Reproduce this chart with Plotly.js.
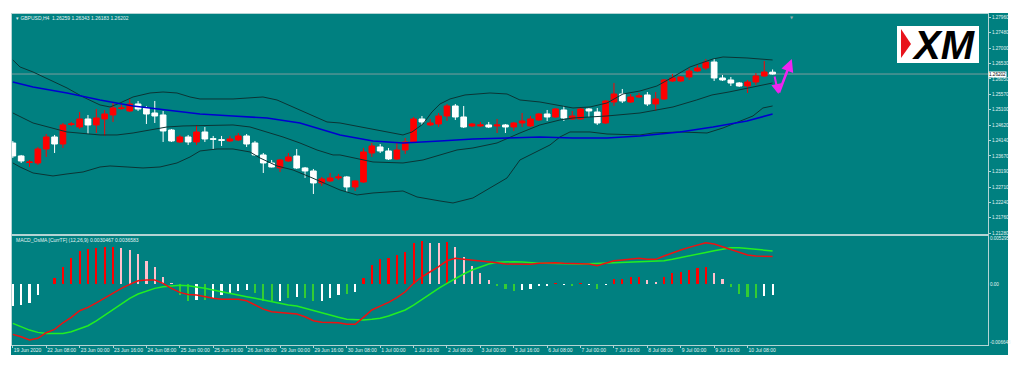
<!DOCTYPE html>
<html>
<head>
<meta charset="utf-8">
<script src="https://cdn.plot.ly/plotly-3.0.1.min.js"></script>
<style>html,body{margin:0;padding:0;background:#fff;}#chart{width:1019px;height:370px;}</style>
</head>
<body>
<div id="chart"></div>
<script>
// ---------- DATA ----------
const symbol = 'GBPUSD,H4';
const timeLabels = ['19 Jun 2020','22 Jun 08:00','23 Jun 00:00','23 Jun 16:00','24 Jun 08:00','25 Jun 00:00','25 Jun 16:00','26 Jun 08:00','29 Jun 00:00','29 Jun 16:00','30 Jun 08:00','1 Jul 00:00','1 Jul 16:00','2 Jul 08:00','3 Jul 00:00','3 Jul 16:00','6 Jul 08:00','7 Jul 00:00','7 Jul 16:00','8 Jul 08:00','9 Jul 00:00','9 Jul 16:00','10 Jul 08:00'];
const labelEvery = 4; // one time label every 4 H4 bars

const open = [1.24071,1.23670,1.23469,1.23453,1.23886,1.24257,1.24040,1.24643,1.24566,1.24813,
1.24628,1.24813,1.24937,1.25138,1.25060,1.25276,1.25153,1.24998,1.24937,1.24473,
1.24102,1.24257,1.24102,1.24411,1.24204,1.24173,1.24133,1.24164,1.24288,1.24071,
1.23701,1.23453,1.23299,1.23515,1.23670,1.23299,1.23206,1.22835,1.22897,1.22990,
1.23021,1.22712,1.22866,1.23762,1.23948,1.23824,1.23577,1.23855,1.24102,1.24813,
1.24628,1.24658,1.24906,1.25215,1.24875,1.24597,1.24597,1.24628,1.24597,1.24628,
1.24566,1.24689,1.24597,1.24782,1.24967,1.24875,1.25091,1.24813,1.24813,1.25122,
1.25029,1.24689,1.25338,1.25585,1.25338,1.25493,1.25555,1.25276,1.25431,1.25987,
1.25987,1.26111,1.26296,1.26389,1.26574,1.26080,1.26018,1.25925,1.25833,1.25956,
1.26142,1.26259];
const high = [1.24133,1.23701,1.23546,1.23948,1.24349,1.24319,1.24689,1.24720,1.25029,1.24937,
1.25122,1.25091,1.25307,1.25307,1.25431,1.25369,1.25215,1.25369,1.25060,1.24504,
1.24319,1.24319,1.24628,1.24566,1.24288,1.24288,1.24288,1.24380,1.24349,1.24133,
1.23762,1.23546,1.23577,1.23762,1.23886,1.23330,1.23268,1.23021,1.23144,1.23114,
1.23052,1.22928,1.23917,1.24071,1.24040,1.23917,1.24102,1.24226,1.24875,1.24906,
1.24813,1.24998,1.25276,1.25276,1.25215,1.24689,1.24720,1.24720,1.24813,1.24658,
1.24720,1.24998,1.24906,1.24998,1.25091,1.25153,1.25215,1.25060,1.25153,1.25153,
1.25153,1.25400,1.25925,1.25740,1.25585,1.25616,1.25647,1.25647,1.26049,1.26203,
1.26142,1.26389,1.26482,1.26667,1.26667,1.26173,1.26111,1.25956,1.26018,1.26234,
1.26605,1.26343];
const low = [1.23608,1.23453,1.23330,1.23392,1.23639,1.23762,1.23917,1.24597,1.24504,1.24349,
1.24380,1.24288,1.24720,1.25091,1.25029,1.25060,1.24658,1.24689,1.24102,1.24102,
1.24071,1.24010,1.24010,1.24102,1.23886,1.23979,1.24102,1.24133,1.23948,1.23670,
1.23144,1.23315,1.23175,1.23484,1.23268,1.22990,1.22495,1.22743,1.22866,1.22928,
1.22557,1.22588,1.22835,1.23639,1.23762,1.23546,1.23546,1.23731,1.24071,1.24628,
1.24597,1.24566,1.24751,1.24782,1.24535,1.24566,1.24566,1.24535,1.24380,1.24380,
1.24442,1.24566,1.24566,1.24751,1.24751,1.24844,1.24751,1.24782,1.24782,1.24875,
1.24628,1.24658,1.25215,1.25307,1.25307,1.25462,1.25215,1.25060,1.25400,1.25956,
1.25956,1.26018,1.26265,1.26327,1.25987,1.25987,1.25833,1.25802,1.25616,1.25864,
1.26111,1.26183];
const close = [1.23670,1.23515,1.23484,1.23886,1.24257,1.24040,1.24628,1.24658,1.24813,1.24628,
1.24844,1.24967,1.25153,1.25153,1.25276,1.25122,1.24967,1.24906,1.24442,1.24133,
1.24257,1.24102,1.24411,1.24195,1.24186,1.24155,1.24195,1.24288,1.24040,1.23701,
1.23453,1.23330,1.23546,1.23639,1.23299,1.23206,1.22835,1.22959,1.22990,1.23021,
1.22712,1.22897,1.23793,1.23979,1.23824,1.23577,1.23855,1.24102,1.24813,1.24720,
1.24689,1.24906,1.25215,1.24875,1.24566,1.24658,1.24628,1.24566,1.24628,1.24566,
1.24689,1.24751,1.24813,1.24967,1.24875,1.25122,1.24844,1.24906,1.25122,1.25060,
1.24689,1.25369,1.25585,1.25369,1.25493,1.25524,1.25276,1.25431,1.26018,1.26080,
1.26111,1.26296,1.26389,1.26574,1.26080,1.26018,1.25925,1.25833,1.25956,1.26142,
1.26265,1.26202];

// Bollinger bands (bar position, price)
const bbUpperX = [0,0.86,2.42,4.46,6.49,8.41,10.44,11.64,12.84,14.4,16.43,17.99,19.66,21.22,22.42,26.37,29.96,31.64,33.56,35.59,37.63,39.19,43.14,46.73,47.81,49.13,50.2,51.16,52.36,54.16,57.15,59.19,60.74,63.13,67.09,69.13,71.16,73.08,75.12,77.15,79.07,81.1,83.86,85.06,87.93,91];
const bbUpperY = [1.26636,1.26420,1.26265,1.26018,1.25771,1.25493,1.25246,1.25184,1.25307,1.25493,1.25616,1.25647,1.25616,1.25493,1.25431,1.25431,1.25493,1.25400,1.25184,1.24937,1.24720,1.24689,1.24504,1.24319,1.24411,1.24658,1.25029,1.25276,1.25431,1.25555,1.25616,1.25585,1.25400,1.25338,1.25153,1.25184,1.25307,1.25585,1.25678,1.25833,1.26111,1.26420,1.26667,1.26729,1.26698,1.26636];
const bbMidX = [0,2.42,6.49,10.44,12.48,14.4,16.43,18.47,20.38,24.46,26.37,28.41,30.44,32.36,34.39,36.43,38.35,39.19,43.14,46.73,49.13,51.16,53.2,55.11,57.99,60.74,63.13,65.53,67.09,69.13,71.16,75.12,79.07,81.9,83.74,85.77,87.93,89.78,91];
const bbMidY = [1.24998,1.24689,1.24411,1.24319,1.24319,1.24380,1.24473,1.24566,1.24597,1.24628,1.24628,1.24566,1.24411,1.24257,1.24071,1.23855,1.23701,1.23701,1.23484,1.23453,1.23546,1.23701,1.23855,1.23917,1.24071,1.24380,1.24628,1.24782,1.24844,1.24875,1.24906,1.24998,1.25184,1.25400,1.25555,1.25647,1.25771,1.25864,1.25925];
const bbLowerX = [0,0.86,2.42,4.81,6.49,8.41,10.44,11.64,13.68,15.59,17.63,19.66,21.22,22.42,24.46,26.37,28.41,29.6,31.64,33.56,35.59,37.63,39.19,41.22,43.14,46.73,48.41,51.16,52.72,55.11,57.15,59.19,60.74,63.13,64.34,65.53,66.73,69.13,71.16,75.12,76.68,79.9,83.14,85.06,86.25,88.65,89.84,91];
const bbLowerY = [1.23453,1.23330,1.23144,1.23052,1.23114,1.23175,1.23330,1.23361,1.23330,1.23299,1.23330,1.23453,1.23639,1.23824,1.23886,1.23886,1.23793,1.23608,1.23361,1.23237,1.23021,1.22804,1.22619,1.22465,1.22526,1.22588,1.22403,1.22279,1.22217,1.22372,1.22681,1.22990,1.23546,1.23855,1.24010,1.24257,1.24411,1.24411,1.24349,1.24319,1.24380,1.24411,1.24380,1.24535,1.24658,1.24906,1.25153,1.25215];
// Moving average (blue)
const maX = [0,2.42,6.49,10.44,14.4,18.47,22.42,26.37,30.44,34.39,36.79,39.19,43.14,46.73,51.16,55.11,59.19,63.13,67.09,71.16,75.12,79.9,83.86,87.93,91];
const maY = [1.25956,1.25802,1.25616,1.25400,1.25215,1.25091,1.24967,1.24906,1.24844,1.24689,1.24504,1.24319,1.24133,1.24071,1.24133,1.24195,1.24226,1.24257,1.24226,1.24226,1.24288,1.24411,1.24566,1.24751,1.24967];

// MACD_OsMA (12,26,9)
const macd = [-0.00548,-0.00574,-0.00610,-0.00591,-0.00530,-0.00493,-0.00421,-0.00361,-0.00289,-0.00252,
-0.00202,-0.00147,-0.00092,-0.00044,0.00000,0.00039,0.00047,0.00047,0.00011,-0.00044,
-0.00088,-0.00110,-0.00117,-0.00136,-0.00153,-0.00164,-0.00164,-0.00164,-0.00180,-0.00227,
-0.00271,-0.00300,-0.00307,-0.00311,-0.00325,-0.00355,-0.00399,-0.00416,-0.00416,-0.00421,
-0.00438,-0.00438,-0.00361,-0.00281,-0.00238,-0.00197,-0.00145,-0.00081,0.00011,0.00083,
0.00138,0.00193,0.00258,0.00285,0.00274,0.00266,0.00258,0.00248,0.00237,0.00222,
0.00222,0.00222,0.00219,0.00230,0.00237,0.00237,0.00230,0.00230,0.00230,0.00222,
0.00204,0.00230,0.00258,0.00266,0.00274,0.00285,0.00274,0.00274,0.00310,0.00346,
0.00376,0.00405,0.00430,0.00456,0.00441,0.00412,0.00383,0.00346,0.00321,0.00310,
0.00310,0.0030467];
const signal = [-0.00427,-0.00464,-0.00501,-0.00526,-0.00537,-0.00537,-0.00537,-0.00519,-0.00490,-0.00453,
-0.00399,-0.00336,-0.00274,-0.00216,-0.00153,-0.00106,-0.00073,-0.00044,-0.00026,-0.00015,
-0.00011,-0.00015,-0.00026,-0.00044,-0.00062,-0.00081,-0.00099,-0.00125,-0.00136,-0.00153,
-0.00172,-0.00191,-0.00208,-0.00227,-0.00238,-0.00263,-0.00292,-0.00318,-0.00344,-0.00361,
-0.00383,-0.00391,-0.00391,-0.00383,-0.00372,-0.00347,-0.00318,-0.00281,-0.00227,-0.00164,
-0.00106,-0.00044,0.00011,0.00066,0.00113,0.00157,0.00193,0.00222,0.00241,0.00248,
0.00248,0.00244,0.00233,0.00230,0.00230,0.00226,0.00222,0.00222,0.00222,0.00226,
0.00230,0.00230,0.00237,0.00241,0.00244,0.00248,0.00248,0.00255,0.00258,0.00274,
0.00291,0.00310,0.00329,0.00350,0.00368,0.00387,0.00401,0.00401,0.00394,0.00387,
0.00376,0.0036583];
const osma = [-0.00238,-0.00227,-0.00205,-0.00117,0.00009,0.00069,0.00189,0.00288,0.00365,0.00386,
0.00398,0.00409,0.00412,0.00398,0.00376,0.00332,0.00255,0.00189,0.00080,0.00014,
-0.00117,-0.00183,-0.00170,-0.00175,-0.00150,-0.00117,-0.00095,-0.00073,-0.00063,-0.00095,
-0.00183,-0.00194,-0.00183,-0.00150,-0.00139,-0.00150,-0.00183,-0.00183,-0.00150,-0.00117,
-0.00106,-0.00084,0.00069,0.00211,0.00277,0.00288,0.00321,0.00354,0.00452,0.00474,
0.00452,0.00450,0.00463,0.00409,0.00299,0.00200,0.00124,0.00047,-0.00013,-0.00051,
-0.00073,-0.00062,-0.00051,-0.00019,-0.00013,0.00020,-0.00008,-0.00013,0.00014,-0.00008,
-0.00051,-0.00005,0.00058,0.00060,0.00080,0.00082,0.00047,0.00025,0.00080,0.00124,
0.00135,0.00157,0.00179,0.00189,0.00124,0.00058,-0.00030,-0.00106,-0.00139,-0.00145,
-0.00128,-0.00117];
// histogram state per bar: r = up above 0, p = down above 0, g = down below 0, w = up below 0
const osmaState = 'wwww' + 'rrrrrrrrr' + 'ppppppp' + 'ggwgwwwwwgggwgwggwwwgw' + 'rrrrrrrr' + 'pprppppp' + 'gggwwwwrwgrwgw' + 'rrrrpprrrrrrppggggww';

const priceTicks = ['1.27960','1.27480','1.27000','1.26530','1.26050','1.25570','1.25100','1.24620','1.24140','1.23670','1.23190','1.22710','1.22240','1.21760','1.21280'];
const priceRange = [1.21259, 1.28057];
const macdMax = 0.005295, macdMin = -0.006643;
const macdTickText = ['0.005295','0.00','-0.006643'];

// ---------- BUILD ----------
const n = close.length;
const idx = Array.from({length:n}, (_, i) => i);
const tickPos = timeLabels.map((_, k) => k * labelEvery);
const stateColor = {r:'#ff0000', p:'#ffc0cc', g:'#33cc33', w:'#ffffff'};
const histColors = osmaState.split('').map(s => stateColor[s]);
const last = n - 1;
const fmt5 = v => v.toFixed(5);

const FONT = 'Liberation Sans, Arial, sans-serif';
const TXT = '#e4f2f2';
const LINE = '#b4d4d4';
const TEAL = '#008080';
const BAND = '#0b3434';

const traces = [
  {type:'scatter', mode:'lines', x:bbUpperX, y:bbUpperY, line:{color:BAND, width:1}, xaxis:'x', yaxis:'y', hoverinfo:'skip'},
  {type:'scatter', mode:'lines', x:bbMidX, y:bbMidY, line:{color:BAND, width:1}, xaxis:'x', yaxis:'y', hoverinfo:'skip'},
  {type:'scatter', mode:'lines', x:bbLowerX, y:bbLowerY, line:{color:BAND, width:1}, xaxis:'x', yaxis:'y', hoverinfo:'skip'},
  {type:'scatter', mode:'lines', x:maX, y:maY, line:{color:'#0000d0', width:1.6}, xaxis:'x', yaxis:'y', hoverinfo:'skip'},
  {type:'candlestick', x:idx, open:open, high:high, low:low, close:close, xaxis:'x', yaxis:'y',
   increasing:{line:{color:'#ff0000', width:1}, fillcolor:'#ff0000'},
   decreasing:{line:{color:'#ffffff', width:1}, fillcolor:'#ffffff'},
   whiskerwidth:0, hoverinfo:'skip'},
  {type:'bar', x:idx, y:osma, width:0.26, marker:{color:histColors, line:{width:0}}, xaxis:'x2', yaxis:'y2', hoverinfo:'skip'},
  {type:'scatter', mode:'lines', x:idx, y:signal, line:{color:'#22ee22', width:1.5}, xaxis:'x2', yaxis:'y2', hoverinfo:'skip'},
  {type:'scatter', mode:'lines', x:idx, y:macd, line:{color:'#ee1111', width:1.5}, xaxis:'x2', yaxis:'y2', hoverinfo:'skip'}
];

// pixel helpers for paper coordinates of decorations (plot area 12..988 x 14..345)
const PL = 12, PW = 976, PB = 345, PH = 331;
const px = v => (v - PL) / PW;
const py = v => (PB - v) / PH;

// MT4 prints the window max/min labels just inside the window edge
const macdPad = 0.00030;
const macdTickVals = [macdMax - macdPad, 0, macdMin + macdPad];

const xRange = [-0.1, 116.8];
const tickFont = {family:FONT, size:4.6, color:TXT};
const layout = {
  width:1019, height:370,
  margin:{l:12, r:31, t:14, b:25, pad:0},
  paper_bgcolor:'#ffffff',
  plot_bgcolor:TEAL,
  showlegend:false,
  boxgap:0.15, boxgroupgap:0.2,
  bargap:0,
  font:{family:FONT, size:5, color:TXT},
  xaxis:{domain:[0,1], anchor:'y', range:xRange, showticklabels:false, ticks:'', showgrid:false, zeroline:false,
         showline:true, mirror:true, linecolor:LINE, linewidth:1, rangeslider:{visible:false}, fixedrange:true},
  yaxis:{domain:[0.3354,1], anchor:'x', range:priceRange, side:'right', showgrid:false, zeroline:false,
         showline:true, mirror:true, linecolor:LINE, linewidth:1,
         tickvals:priceTicks.map(Number), ticktext:priceTicks, ticks:'outside', ticklen:2, tickcolor:LINE,
         tickfont:tickFont, fixedrange:true},
  xaxis2:{domain:[0,1], anchor:'y2', range:xRange, showgrid:false, zeroline:false,
          showline:true, mirror:true, linecolor:LINE, linewidth:1,
          tickvals:tickPos, ticktext:timeLabels, ticks:'outside', ticklen:2, tickcolor:LINE,
          ticklabelposition:'outside right', tickangle:0,
          tickfont:{family:FONT, size:5, color:TXT}, fixedrange:true},
  yaxis2:{domain:[0,0.3293], anchor:'x2', range:[macdMin, macdMax], side:'right', showgrid:false, zeroline:false,
          showline:true, mirror:true, linecolor:LINE, linewidth:1,
          tickvals:macdTickVals, ticktext:macdTickText, ticks:'', 
          tickfont:tickFont, fixedrange:true},
  shapes:[
    // teal window background
    {type:'rect', xref:'paper', yref:'paper', x0:px(11), x1:px(1008), y0:py(355), y1:py(13), fillcolor:TEAL, line:{width:0}, layer:'below'},
    // bid line
    {type:'line', xref:'paper', yref:'y', x0:0, x1:1, y0:close[last], y1:close[last], line:{color:'#7c9c9c', width:1}, layer:'below'},
    // XM logo
    {type:'rect', xref:'paper', yref:'paper', x0:px(897), x1:px(979), y0:py(63), y1:py(26), fillcolor:'#ffffff', line:{width:0}},
    {type:'path', xref:'paper', yref:'paper', path:`M ${px(901)},${py(29)} L ${px(911)},${py(44)} L ${px(901)},${py(58)} Z`, fillcolor:'#e8141c', line:{width:0}}
  ],
  annotations:[
    {xref:'paper', yref:'paper', x:px(14), y:py(18), xanchor:'left', yanchor:'middle', showarrow:false,
     text:`▾ ${symbol}  ${fmt5(open[last])} ${fmt5(high[last])} ${fmt5(low[last])} ${fmt5(close[last])}`,
     font:{family:FONT, size:5, color:TXT}},
    {xref:'paper', yref:'paper', x:px(14), y:py(239.5), xanchor:'left', yanchor:'middle', showarrow:false,
     text:`MACD_OsMA [CurrTF] (12,26,9) ${macd[last].toFixed(7)} ${signal[last].toFixed(7)}`,
     font:{family:FONT, size:5, color:TXT}},
    {xref:'paper', yref:'y', x:px(988.5), y:close[last], xanchor:'left', yanchor:'middle', showarrow:false,
     text:fmt5(close[last]), bgcolor:'#ffffff', borderpad:0, font:{family:FONT, size:4.6, color:'#000000'}},
    {xref:'paper', yref:'paper', x:px(792), y:py(13), xanchor:'center', yanchor:'top', showarrow:false,
     text:'▼', font:{family:'DejaVu Sans', size:4, color:'#9aaaaa'}},
    {xref:'paper', yref:'paper', x:px(944), y:py(45), xanchor:'center', yanchor:'middle', showarrow:false,
     text:'<b><i>XM</i></b>', font:{family:FONT, size:40, color:'#000000'}},
    // magenta arrows
    {xref:'x', yref:'y', axref:'x', ayref:'y', x:91.7, y:1.25585, ax:91.2, ay:1.26173, text:'', showarrow:true,
     arrowhead:2, arrowsize:1, arrowwidth:2, arrowcolor:'#f024f0'},
    {xref:'x', yref:'y', axref:'x', ayref:'y', x:93.3, y:1.26667, ax:91.7, ay:1.25585, text:'', showarrow:true,
     arrowhead:2, arrowsize:1, arrowwidth:2.5, arrowcolor:'#f024f0'}
  ]
};

Plotly.newPlot('chart', traces, layout, {staticPlot:true, displayModeBar:false});
</script>
</body>
</html>
